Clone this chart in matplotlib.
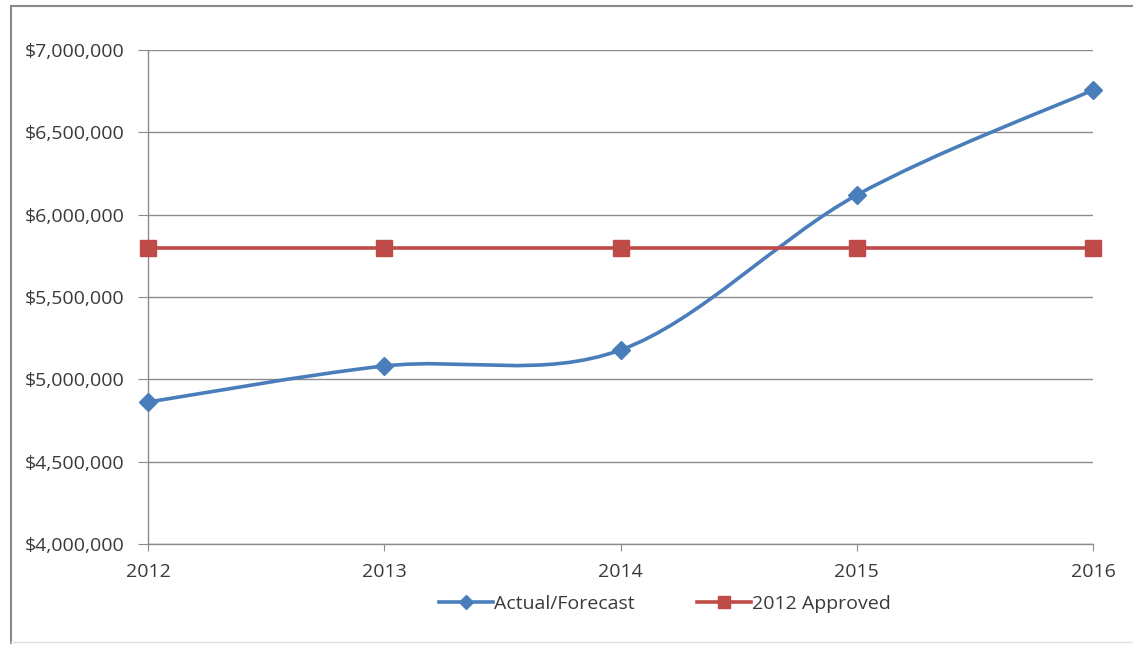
import matplotlib
matplotlib.use("Agg")
import matplotlib.pyplot as plt
from matplotlib.path import Path
from matplotlib.patches import PathPatch
from matplotlib.lines import Line2D
from matplotlib.ticker import FuncFormatter

# данные графика
years = [2012, 2013, 2014, 2015, 2016]
actual_forecast = [4862000, 5081000, 5178000, 6119000, 6757000]
approved_2012 = [5797000, 5797000, 5797000, 5797000, 5797000]
y_ticks = [4000000, 4500000, 5000000, 5500000, 6000000, 6500000, 7000000]

blue = '#4A7EBB'
red = '#BE4B48'
text_col = '#3A3A3A'
grid_col = '#8C8C8C'

plt.rcParams['font.family'] = ['Open Sans', 'DejaVu Sans']

fig = plt.figure(figsize=(11.33, 6.45), dpi=100)
ax = fig.add_axes([148 / 1133, 1 - 544 / 645, (1093 - 148) / 1133, (544 - 50) / 645])

xs = list(range(len(years)))


# сглаженная линия как в Excel (кривые Безье через точки)
def smooth_path(px, py):
    verts = [(px[0], py[0])]
    codes = [Path.MOVETO]
    n = len(px)
    for i in range(n - 1):
        p0 = max(i - 1, 0)
        p3 = min(i + 2, n - 1)
        c1 = (px[i] + (px[i + 1] - px[p0]) / 6, py[i] + (py[i + 1] - py[p0]) / 6)
        c2 = (px[i + 1] - (px[p3] - px[i]) / 6, py[i + 1] - (py[p3] - py[i]) / 6)
        verts += [c1, c2, (px[i + 1], py[i + 1])]
        codes += [Path.CURVE4] * 3
    return Path(verts, codes)


ax.add_patch(PathPatch(smooth_path(xs, actual_forecast), facecolor='none',
                       edgecolor=blue, lw=2.6, zorder=3, capstyle='round'))
ax.plot(xs, actual_forecast, ls='none', marker='D', color=blue, markersize=9,
        zorder=4, clip_on=False)
ax.plot(xs, approved_2012, color=red, lw=2.6, marker='s', markersize=11,
        zorder=3, clip_on=False)

ax.set_xlim(0, len(years) - 1)
ax.set_ylim(4000000, 7000000)
ax.set_yticks(y_ticks)
ax.yaxis.set_major_formatter(FuncFormatter(lambda v, p: '${:,.0f}'.format(v)))
ax.set_xticks(xs)
ax.set_xticklabels([str(y) for y in years])

ax.grid(axis='y', color=grid_col, lw=1)
ax.set_axisbelow(True)
for s in ['top', 'right']:
    ax.spines[s].set_visible(False)
for s in ['left', 'bottom']:
    ax.spines[s].set_color(grid_col)
    ax.spines[s].set_linewidth(1)
ax.tick_params(axis='y', length=7, color=grid_col, labelsize=14, labelcolor=text_col, pad=10)
ax.tick_params(axis='x', length=5, color=grid_col, labelsize=14, labelcolor=text_col, pad=9)

handles = [Line2D([], [], color=blue, lw=2.6, marker='D', markersize=7),
           Line2D([], [], color=red, lw=2.6, marker='s', markersize=9)]
fig.legend(handles, ['Actual/Forecast', '2012 Approved'], loc='center',
           bbox_to_anchor=(665 / 1133, 1 - 604 / 645), ncol=2, frameon=False,
           fontsize=14, labelcolor=text_col, handlelength=2.8, handletextpad=0.05,
           columnspacing=3.2)

# рамка вокруг всего графика
fig.add_artist(Line2D([11 / 1133, 11 / 1133], [0.003, 1 - 6 / 645], color='#8A8A8A', lw=1.5))
fig.add_artist(Line2D([11 / 1133, 1.0], [1 - 6 / 645, 1 - 6 / 645], color='#8A8A8A', lw=1.5))
fig.add_artist(Line2D([11 / 1133, 1.0], [0.004, 0.004], color='#E0E0E0', lw=1))

fig.savefig('out.png', dpi=100, facecolor='white')
